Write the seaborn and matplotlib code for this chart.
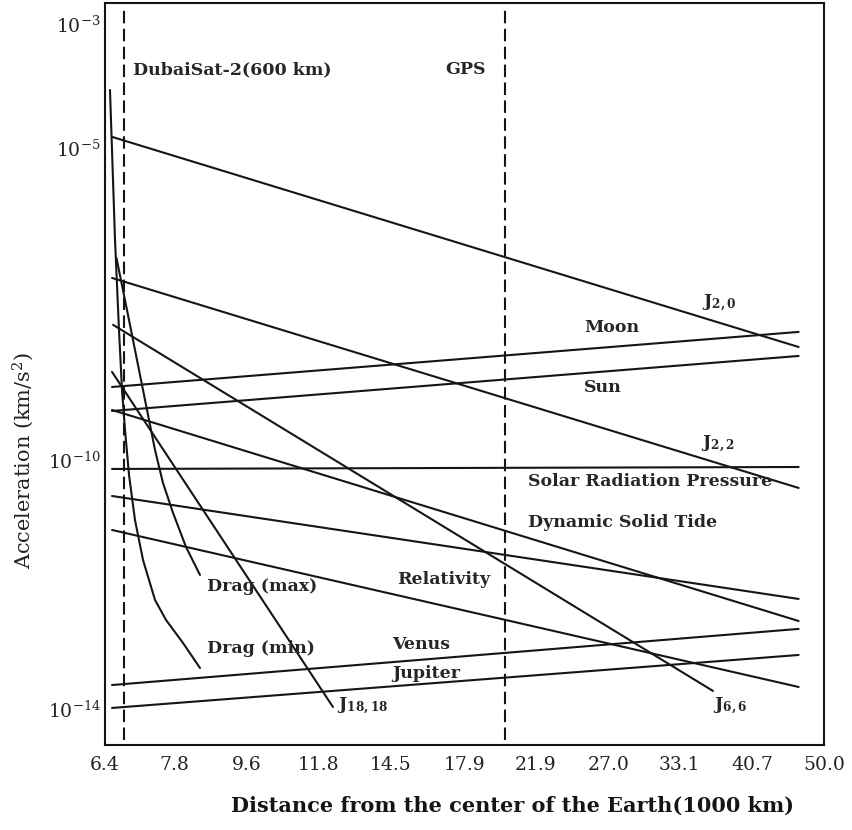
import numpy as np
import pandas as pd
import matplotlib
matplotlib.use("Agg")
import matplotlib.pyplot as plt
import seaborn as sns
from matplotlib.ticker import FixedLocator, FuncFormatter, NullLocator

# distance from Earth's centre (1000 km), acceleration (km/s^2)
line_names = ["J2,0", "J2,2", "J6,6", "J18,18", "Moon", "Sun",
              "Dynamic Solid Tide", "Solar Radiation Pressure", "unlabelled",
              "Relativity", "Venus", "Jupiter"]
line_x = [[6.53, 46.5], [6.53, 46.5], [6.55, 36.4], [6.53, 12.28],
          [6.53, 46.5], [6.53, 46.5], [6.53, 46.5], [6.53, 46.5],
          [6.53, 46.5], [6.53, 46.5], [6.53, 46.5], [6.53, 46.5]]
line_y = [[1.54e-5, 6.53e-9], [8.38e-8, 3.57e-11], [1.48e-8, 1.97e-14],
          [2.6e-9, 1.09e-14], [1.49e-9, 1.14e-8], [6.14e-10, 4.69e-9],
          [6.37e-10, 2.61e-13], [7.2e-11, 7.74e-11], [2.65e-11, 5.9e-13],
          [7.55e-12, 2.28e-14], [2.45e-14, 1.95e-13], [1.05e-14, 7.44e-14]]

drag_min_x = [6.492, 6.586, 6.661, 6.719, 6.777, 6.855, 6.973, 7.135,
              7.384, 7.620, 7.999, 8.397]
drag_min_y = [8.72e-5, 3.41e-7, 1.23e-8, 1.33e-9, 3.04e-10, 5.77e-11,
              1.09e-11, 2.49e-12, 5.68e-13, 2.71e-13, 1.16e-13, 4.6e-14]
drag_max_x = [6.614, 6.815, 7.013, 7.217, 7.384, 7.554, 7.774, 8.068, 8.397]
drag_max_y = [1.75e-7, 2.57e-8, 4.05e-9, 6.37e-10, 1.45e-10, 4.29e-11,
              1.42e-11, 4.03e-12, 1.43e-12]

orbit_names = ["DubaiSat-2(600 km)", "GPS"]
orbit_x = [6.757, 20.08]

xtick_vals = [6.4, 7.8, 9.6, 11.8, 14.5, 17.9, 21.9, 27.0, 33.1, 40.7, 50.0]
ytick_exps = list(range(-14, -2))
ytick_shown = [-3, -5, -10, -14]

# label text, x, y, alignment
label_text = [r"$\mathbf{J_{2,0}}$", "Moon", "Sun", r"$\mathbf{J_{2,2}}$",
              "Solar Radiation Pressure", "Dynamic Solid Tide", "Relativity",
              "Drag (max)", "Drag (min)", "Venus", "Jupiter",
              r"$\mathbf{J_{18,18}}$", r"$\mathbf{J_{6,6}}$"]
label_x = [37.1, 27.27, 26.58, 36.93, 30.4, 28.07, 16.87, 8.567, 8.567,
           14.54, 14.54, 12.42, 36.4]
label_y = [3.32e-8, 1.32e-8, 1.44e-9, 1.81e-10, 4.45e-11, 1.01e-11, 1.19e-12,
           9.19e-13, 9.29e-14, 1.08e-13, 3.82e-14, 1.09e-14, 1.09e-14]
label_ha = ["center", "center", "center", "center", "center", "center",
            "center", "left", "left", "left", "left", "left", "left"]

sns.set_theme(style="white")
plt.rcParams["font.family"] = ["DejaVu Serif"]
plt.rcParams["mathtext.fontset"] = "dejavuserif"

frames = []
for n, xs, ys in zip(line_names, line_x, line_y):
    frames.append(pd.DataFrame({"name": n, "distance": xs, "accel": ys}))
frames.append(pd.DataFrame({"name": "Drag (min)", "distance": drag_min_x, "accel": drag_min_y}))
frames.append(pd.DataFrame({"name": "Drag (max)", "distance": drag_max_x, "accel": drag_max_y}))
df = pd.concat(frames, ignore_index=True)

fig = plt.figure(figsize=(8.53, 8.30), dpi=100)
ax = fig.add_axes([105 / 853, 85 / 830, 719 / 853, 742 / 830])
ax.set_xscale("log")
ax.set_yscale("log")

sns.lineplot(data=df, x="distance", y="accel", units="name", estimator=None,
             sort=False, color="#151515", linewidth=1.5, legend=False, ax=ax)

for xv in orbit_x:
    ax.axvline(xv, ymin=0.007, ymax=0.993, color="#151515", linewidth=1.5,
               dashes=(6, 2.6))

ax.text(6.933, 1.83e-4, orbit_names[0], ha="left", va="center",
        fontsize=12.5, fontweight="bold")
ax.text(17.92, 1.83e-4, orbit_names[1], ha="center", va="center",
        fontsize=12.5, fontweight="bold")

for t, xv, yv, ha in zip(label_text, label_x, label_y, label_ha):
    ax.text(xv, yv, t, ha=ha, va="center", fontsize=12.5, fontweight="bold")

ax.set_xlim(6.4, 50.0)
ax.set_ylim(2.67e-15, 2.17e-3)

ax.xaxis.set_major_locator(FixedLocator(xtick_vals))
ax.xaxis.set_major_formatter(FuncFormatter(lambda v, p: f"{v:.1f}"))
ax.xaxis.set_minor_locator(NullLocator())
ax.yaxis.set_major_locator(FixedLocator([10.0 ** e for e in ytick_exps]))
ax.yaxis.set_major_formatter(FuncFormatter(
    lambda v, p: f"$10^{{{int(round(np.log10(v)))}}}$"
    if int(round(np.log10(v))) in ytick_shown else ""))
ax.yaxis.set_minor_locator(NullLocator())

ax.tick_params(axis="both", direction="in", length=4.5, width=1.5,
               color="#151515", labelsize=13.5, labelcolor="#222222")
ax.tick_params(axis="x", pad=8)
ax.tick_params(axis="y", pad=3)

for s in ax.spines.values():
    s.set_visible(True)
    s.set_color("#151515")
    s.set_linewidth(1.5)

ax.set_xlabel("Distance from the center of the Earth(1000 km)", fontsize=15,
              fontweight="bold", color="#151515")
ax.xaxis.set_label_coords(0.567, -0.068)
ax.set_ylabel("Acceleration (km/s$^2$)", fontsize=15, color="#222222")
ax.yaxis.set_label_coords(-0.096, 0.383)

fig.savefig("out.png", dpi=100)
